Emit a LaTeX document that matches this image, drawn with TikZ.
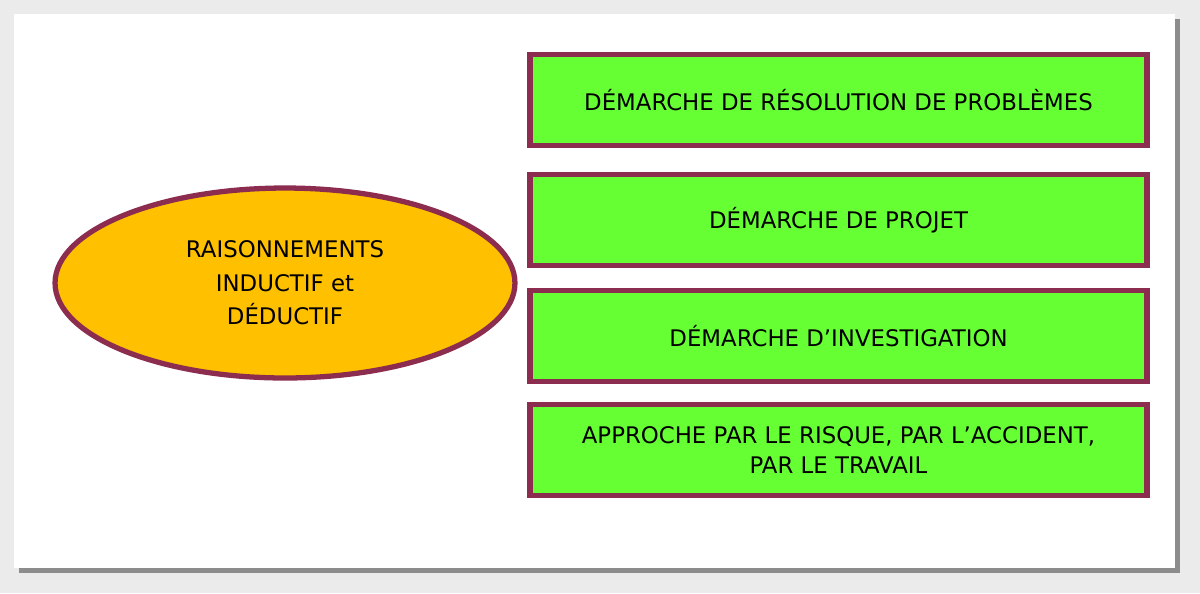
\documentclass[tikz,border=0pt]{standalone}
\usepackage{fontspec}
\setmainfont{DejaVu Sans}
\definecolor{bord}{HTML}{8C2D4F}
\definecolor{gr}{HTML}{66FF33}
\definecolor{yl}{HTML}{FFC000}
\begin{document}
\begin{tikzpicture}[x=0.02cm,y=-0.02cm,
 box/.style={draw=bord,line width=3pt,fill=gr,minimum width=617\pgflinewidth*0+12.34cm,minimum height=1.82cm,font=\fontsize{13}{17}\selectfont,align=center},
 ell/.style={ellipse,draw=bord,line width=3pt,fill=yl,minimum width=9.2cm,minimum height=3.8cm,font=\fontsize{13}{19}\selectfont,align=center}]
\usetikzlibrary{shapes.geometric}
\useasboundingbox (0,0) rectangle (1200,593);
\fill[white!92!black] (0,0) rectangle (1200,593);
\fill[black!45] (19,19) rectangle (1180,573);
\fill[white] (14,14) rectangle (1175,568);
\node[box] (b1) at (838.5,100) {DÉMARCHE DE RÉSOLUTION DE PROBLÈMES};
\node[box] (b2) at (838.5,220) {DÉMARCHE DE PROJET};
\node[box] (b3) at (838.5,336) {DÉMARCHE D'INVESTIGATION};
\node[box] (b4) at (838.5,450) {APPROCHE PAR LE RISQUE, PAR L’ACCIDENT,\\PAR LE TRAVAIL};
\node[ell] (e) at (285,283) {RAISONNEMENTS\\INDUCTIF et\\DÉDUCTIF};
\end{tikzpicture}
\end{document}
